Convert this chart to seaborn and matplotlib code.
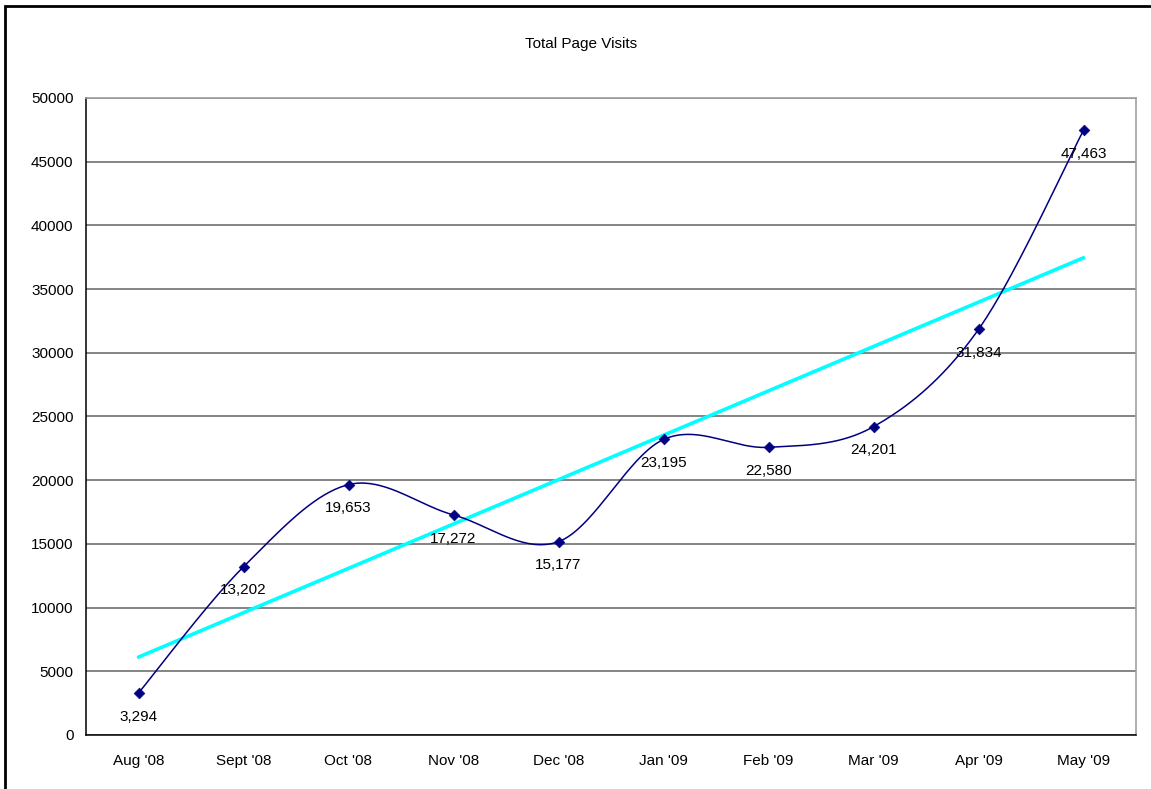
import numpy as np
import pandas as pd
import matplotlib
matplotlib.use('Agg')
import matplotlib.pyplot as plt
import seaborn as sns
from matplotlib.patches import Rectangle

months = ["Aug '08", "Sept '08", "Oct '08", "Nov '08", "Dec '08",
          "Jan '09", "Feb '09", "Mar '09", "Apr '09", "May '09"]
visits = [3294, 13202, 19653, 17272, 15177, 23195, 22580, 24201, 31834, 47463]

df = pd.DataFrame({'pos': np.arange(len(months)), 'month': months, 'visits': visits})

sns.set_style('white')
plt.rcParams['font.family'] = ['Liberation Sans', 'DejaVu Sans']
plt.rcParams['text.color'] = 'black'
plt.rcParams['xtick.color'] = 'black'
plt.rcParams['ytick.color'] = 'black'
fs = 11

fig = plt.figure(figsize=(11.51, 7.89), dpi=100)
ax = fig.add_axes([86/1151, 54/789, 1050/1151, 637/789])

# excel style smoothed line (bezier through the points)
x = df['pos'].values.astype(float)
y = df['visits'].values.astype(float)
px = np.concatenate([[x[0]], x, [x[-1]]])
py = np.concatenate([[y[0]], y, [y[-1]]])
cx, cy = [], []
t = np.linspace(0, 1, 40)
for i in range(1, len(px) - 2):
    p0 = np.array([px[i], py[i]])
    p3 = np.array([px[i+1], py[i+1]])
    p1 = p0 + (np.array([px[i+1], py[i+1]]) - np.array([px[i-1], py[i-1]])) / 6
    p2 = p3 - (np.array([px[i+2], py[i+2]]) - np.array([px[i], py[i]])) / 6
    b = ((1-t)**3)[:, None]*p0 + (3*(1-t)**2*t)[:, None]*p1 + (3*(1-t)*t**2)[:, None]*p2 + (t**3)[:, None]*p3
    cx.extend(b[:, 0]); cy.extend(b[:, 1])
ax.plot(cx, cy, color='#000080', lw=1.1, zorder=3)

# linear trend
sns.regplot(data=df, x='pos', y='visits', scatter=False, ci=None, truncate=True,
            color='#00FFFF', line_kws={'lw': 2.6, 'zorder': 2}, ax=ax)

sns.scatterplot(data=df, x='pos', y='visits', marker='D', s=30, color='#000080',
                edgecolor='#000080', zorder=4, ax=ax)

for xi, yi in zip(x, y):
    ax.annotate(f'{int(yi):,}', (xi, yi), xytext=(0, -17), textcoords='offset points',
                ha='center', va='center', fontsize=fs, color='black')

ax.set_xlim(-0.5, len(months) - 0.5)
ax.set_ylim(0, 50000)
ax.set_yticks(np.arange(0, 50001, 5000))
ax.set_yticklabels([str(v) for v in range(0, 50001, 5000)], fontsize=fs)
ax.set_xticks(np.arange(len(months)))
ax.set_xticklabels(months, fontsize=fs)
ax.set_xticks(np.arange(-0.5, len(months)), minor=True)
ax.tick_params(axis='x', which='major', length=0, pad=14)
ax.tick_params(axis='x', which='minor', length=5, width=1, color='black', direction='out')
ax.tick_params(axis='y', length=5, width=1, color='black', direction='out', pad=4)
ax.set_xlabel('')
ax.set_ylabel('')
ax.yaxis.grid(True, color='#707070', lw=1.2)
ax.set_axisbelow(True)
for s in ['top', 'right']:
    ax.spines[s].set_color('#a0a0a0')
    ax.spines[s].set_linewidth(1.2)
for s in ['left', 'bottom']:
    ax.spines[s].set_color('black')
    ax.spines[s].set_linewidth(1.1)

fig.text(581/1151, 1 - 44/789, 'Total Page Visits', ha='center', va='center', fontsize=fs, color='black')

# outer chart border
fig.patches.append(Rectangle((5/1151, -0.01), 1.1, 1 - 6/789 + 0.01, transform=fig.transFigure,
                             fill=False, edgecolor='black', lw=2))

fig.savefig('out.png', dpi=100)
